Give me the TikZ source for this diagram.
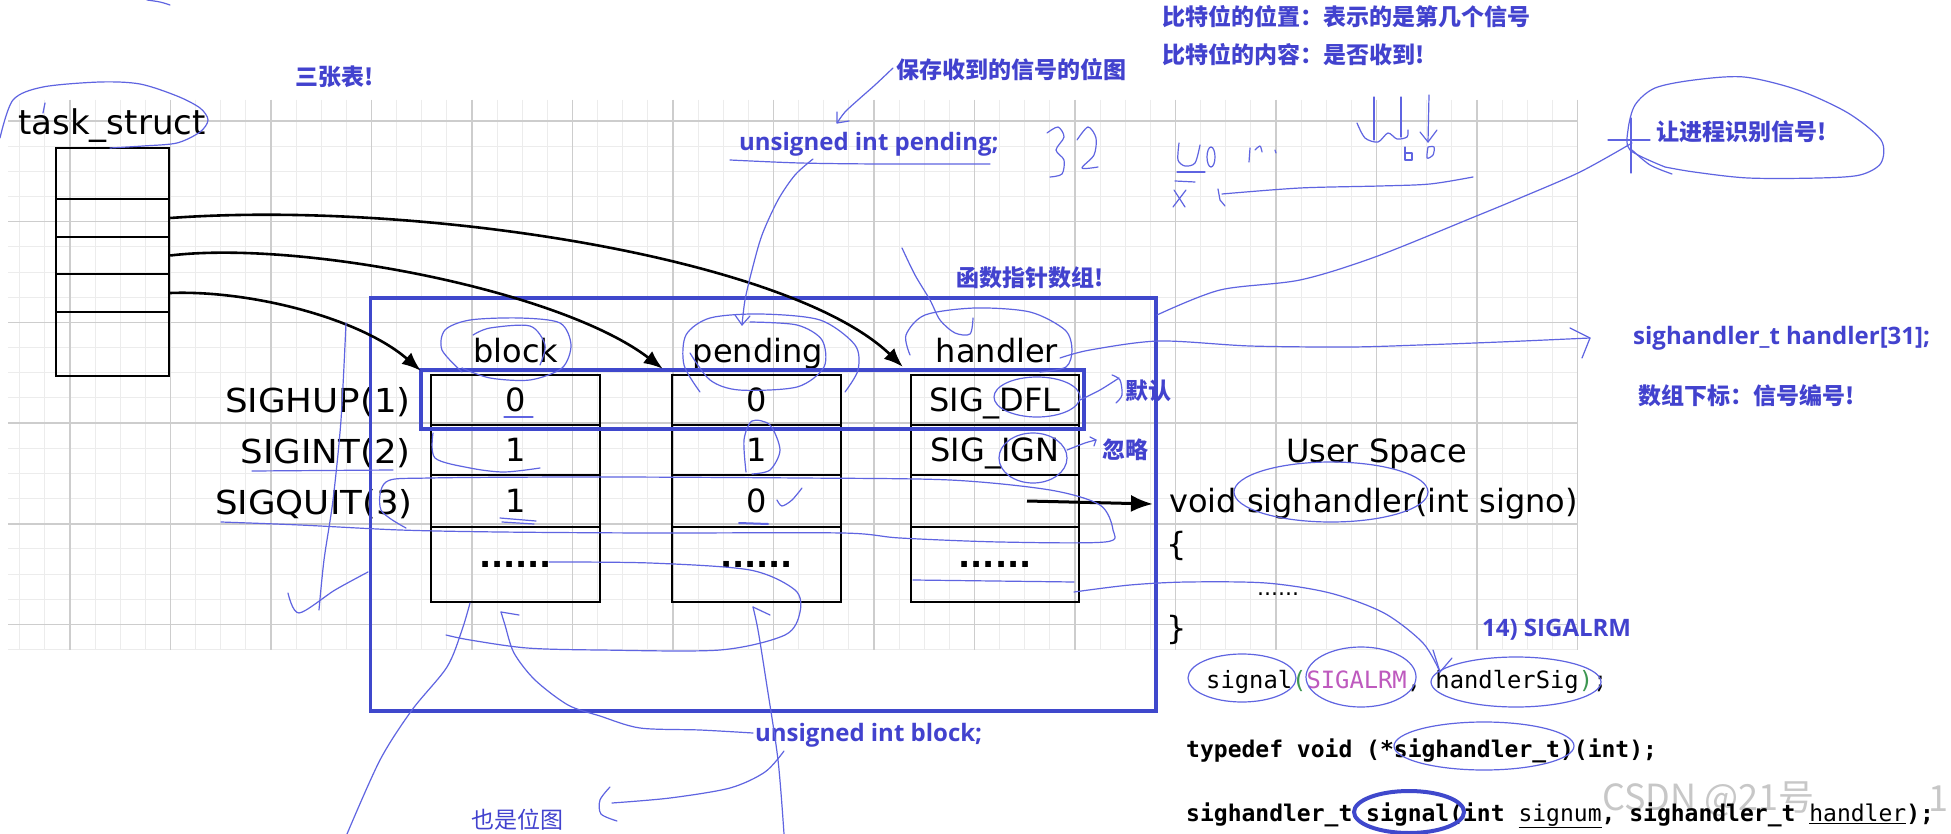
\documentclass[tikz,border=0pt]{standalone}
\usepackage{fontspec}
\setmainfont{DejaVu Sans}
\newfontfamily\comicf{DejaVu Sans}
\newfontfamily\comicw{DejaVu Sans}[FakeStretch=1.08]
\newfontfamily\cjkf{Noto Sans CJK SC}
\newfontfamily\latb{Open Sans}
\newfontfamily\monof{DejaVu Sans Mono}
\usetikzlibrary{arrows.meta}
\newcommand\myfs[1]{\fontsize{#1}{#1}\selectfont}
\definecolor{tblue}{RGB}{66,66,206}
\definecolor{boxblue}{RGB}{63,72,204}
\definecolor{scribc}{RGB}{95,100,225}
\definecolor{cgreen}{RGB}{60,150,80}
\definecolor{cpurple}{RGB}{190,90,190}
\definecolor{gmin}{RGB}{236,236,236}
\definecolor{gmaj}{RGB}{205,205,205}
\begin{document}
\begin{tikzpicture}[x=1pt,y=-1pt,
  gminor/.style={draw=gmin, line width=1pt},
  gmajor/.style={draw=gmaj, line width=1.6pt},
  cellb/.style={draw=black, line width=2.4pt, inner sep=0pt, minimum width=169pt,
     font=\comicf\myfs{32}, text height=23.3pt, text depth=0pt},
  cellt/.style={draw=black, line width=2.4pt, inner sep=0pt, minimum width=113pt},
  lab/.style={font=\comicw\myfs{33}, inner sep=0pt},
  hdr/.style={font=\comicf\myfs{32}, inner sep=0pt, anchor=base},
  dotst/.style={font=\comicf\bfseries\myfs{32}, inner sep=0pt, anchor=base},
  bcjk/.style={text=tblue, font=\cjkf\bfseries\myfs{23}, inner sep=0pt},
  blat/.style={text=tblue, font=\latb\bfseries\myfs{24}, inner sep=0pt},
  code/.style={font=\monof\myfs{23}, inner sep=0pt, anchor=base west},
  wm/.style={text=black!22, font=\cjkf\myfs{36}, inner sep=0pt},
  arr/.style={draw=black, line width=2.6pt, -{Latex[length=19pt,width=15pt]}},
  bluebox/.style={draw=boxblue, line width=3.8pt},
  scrib/.style={draw=scribc, line width=1.2pt, line cap=round, line join=round},
  ]
\useasboundingbox (0,0) rectangle (1951,834);
\fill[white] (0,0) rectangle (1951,834);

% ---------- grid ----------
\foreach \i in {0,...,62} { \draw[gminor] ({19.75+25.125*\i},100) -- ({19.75+25.125*\i},650); }
\foreach \j in {0,...,21} { \draw[gminor] (8,{121+25.17*\j}) -- (1577.5,{121+25.17*\j}); }
\foreach \i in {0,...,15} { \draw[gmajor] ({70+100.5*\i},100) -- ({70+100.5*\i},650); }
\foreach \j in {0,...,5} { \draw[gmajor] (8,{121+100.68*\j}) -- (1577.5,{121+100.68*\j}); }

% ---------- watermark ----------
\node[wm, anchor=west] (wm1) at (1602,799) {CSDN @21号};
\node[wm] (wm2) at (1938,799) {1};

% ---------- task_struct ----------
\node[font=\comicf\myfs{34}, inner sep=0pt, anchor=base] (tsl) at (112,135) {task\_struct};
\node[cellt, minimum height=51pt] (t1) at (112.5,173.5) {};
\node[cellt, minimum height=38pt] (t2) at (112.5,218) {};
\node[cellt, minimum height=37pt] (t3) at (112.5,255.5) {};
\node[cellt, minimum height=38pt] (t4) at (112.5,293) {};
\node[cellt, minimum height=64pt] (t5) at (112.5,344) {};

% ---------- tables ----------
\node[cellb, minimum height=50pt] (b1) at (515.5,400) {0};
\node[cellb, minimum height=50pt] (b2) at (515.5,450) {1};
\node[cellb, minimum height=52pt] (b3) at (515.5,501) {1};
\node[cellb, minimum height=75pt] (b4) at (515.5,564.5) {};
\node[cellb, minimum height=50pt] (p1) at (756.5,400) {0};
\node[cellb, minimum height=50pt] (p2) at (756.5,450) {1};
\node[cellb, minimum height=52pt] (p3) at (756.5,501) {0};
\node[cellb, minimum height=75pt] (p4) at (756.5,564.5) {};
\node[cellb, minimum width=168pt, minimum height=50pt] (h1) at (995,400) {SIG\_DFL};
\node[cellb, minimum width=168pt, minimum height=50pt] (h2) at (995,450) {SIG\_IGN};
\node[cellb, minimum width=168pt, minimum height=52pt] (h3) at (995,501) {};
\node[cellb, minimum width=168pt, minimum height=75pt] (h4) at (995,564.5) {};
\node[dotst] (bd) at (515.5,567) {......};
\node[dotst] (pd) at (756.5,567) {......};
\node[dotst] (hd) at (995,567) {......};

\node[hdr] (hb) at (516,362) {block};
\node[hdr] (hp) at (758,362) {pending};
\node[hdr] (hh) at (997,362) {handler};

\node[lab, anchor=base east] (l1) at (411,412) {SIGHUP(1)};
\node[lab, anchor=base east] (l2) at (411,463) {SIGINT(2)};
\node[lab, anchor=base east] (l3) at (413,514) {SIGQUIT(3)};

% ---------- blue boxes ----------
\draw[bluebox] (370.5,298) rectangle (1156,711);
\draw[draw=boxblue, line width=3.2pt] (421,370) rectangle (1084,429);

% ---------- black arrows ----------
\draw[arr] (t2.east) .. controls (420,200) and (790,258) .. ([shift={(-7,-7)}]h1.north west);
\draw[arr] (t3.east) .. controls (300,240) and (560,290) .. ([shift={(-8,-5)}]p1.north west);
\draw[arr] (t4.east) .. controls (250,290) and (360,318) .. ([shift={(-9,-3)}]b1.north west);
\coordinate (usp) at (1153,504);
\draw[draw=black, line width=3pt, -{Latex[length=22pt,width=17pt]}] ([xshift=32pt]h3.center) -- (usp);

% ---------- user space ----------
\node[font=\comicf\myfs{32}, inner sep=0pt, anchor=base west] (us) at (1286,462) {User Space};
\node[font=\comicf\myfs{32}, inner sep=0pt, anchor=base west] (vs) at (1169,512) {void sighandler(int signo)};
\node[font=\comicf\myfs{32}, inner sep=0pt] (lb) at (1177,546) {\{};
\node[font=\comicf\myfs{22}, inner sep=0pt] (ud) at (1278,594) {......};
\node[font=\comicf\myfs{32}, inner sep=0pt] (rb) at (1177,630) {\}};

% ---------- code ----------
\node[code, font=\monof\myfs{23.8}] (c1) at (1206,688) {signal\textcolor{cgreen}{(}\textcolor{cpurple}{SIGALRM}, handlerSig\textcolor{cgreen}{)};};
\node[code, font=\monof\bfseries\myfs{23}] (c2) at (1186,757) {typedef void (*sighandler\_t)(int);};
\node[code, font=\monof\bfseries\myfs{23}] (c3) at (1186,821) {sighandler\_t signal(int {\mdseries\underline{signum}}, sighandler\_t {\mdseries\underline{handler}});};

% ---------- blue annotations ----------
\node[bcjk] (a1) at (335,77) {三张表!};
\node[bcjk] (a2) at (1011,70) {保存收到的信号的位图};
\node[bcjk, anchor=west] (a3) at (1162,17) {比特位的位置：表示的是第几个信号};
\node[bcjk, anchor=west] (a4) at (1162,55) {比特位的内容：是否收到!};
\node[blat, anchor=base west] (a5) at (739,151) {unsigned int pending;};
\node[bcjk] (a6) at (1030,278) {函数指针数组!};
\node[bcjk] (a7) at (1148,391) {默认};
\node[bcjk] (a8) at (1125,450) {忽略};
\node[bcjk] (a9) at (1742,132) {让进程识别信号!};
\node[blat, anchor=base west] (a10) at (1633,344) {sighandler\_t handler[31];};
\node[bcjk, anchor=west] (a11) at (1638,396) {数组下标：信号编号!};
\node[blat, anchor=west] (a12) at (1482,630) {14) SIGALRM};
\node[blat, anchor=base west] (a13) at (755,741) {unsigned int block;};
\node[bcjk, font=\cjkf\myfs{23}] (a14) at (517,820) {也是位图};

% ---------- hand-drawn scribbles ----------
\draw[scrib] plot[smooth] coordinates {(0,138) (13,100) (43,87) (100,82) (140,84) (177,96) (200,108) (208,120) (200,132) (177,143) (143,146) (110,148)};
\draw[scrib] (45,103) -- (43,113);
\draw[scrib] plot[smooth] coordinates {(147,0) (160,2) (170,5)};
% headers
\draw[scrib] plot[smooth] coordinates {(462,372) (442,350) (445,330) (470,320) (520,318) (560,323) (571,345) (562,368) (530,380) (490,378) (462,368)};
\draw[scrib] plot[smooth] coordinates {(473,335) (490,328) (530,326) (545,345) (540,365)};
\draw[scrib] plot[smooth] coordinates {(700,392) (684,365) (686,335) (710,318) (760,314) (820,320) (855,345) (858,370) (845,392)};
\draw[scrib] plot[smooth] coordinates {(690,353) (710,380) (739,390) (797,387) (824,367) (822,340) (797,325) (750,322)};
\draw[scrib] plot[smooth] coordinates {(910,355) (906,335) (925,315) (975,308) (1030,312) (1065,330) (1072,350) (1066,367) (1040,372)};
% pending annotation
\draw[scrib] plot[smooth] coordinates {(893,68) (875,85) (858,100) (845,112) (837,123)};
\draw[scrib] (837,112) -- (837,123) -- (849,121);
\draw[scrib] plot[smooth] coordinates {(730,160) (800,163) (880,164) (990,164)};
\draw[scrib] plot[smooth] coordinates {(813,159) (795,175) (778,200) (762,235) (752,270) (745,300) (742,325)};
\draw[scrib] (735,315) -- (742,325) -- (750,316);
\draw[scrib] plot[smooth] coordinates {(902,248) (915,275) (930,300) (940,320) (955,333) (970,334) (973,318)};
% to right ellipse
\draw[scrib] plot[smooth] coordinates {(1157,315) (1220,290) (1300,280) (1375,257) (1474,217) (1520,198) (1580,172) (1632,143)};
\draw[scrib] (1608,140) -- (1650,140);
\draw[scrib] (1631,118) -- (1631,173);
\draw[scrib] plot[smooth] coordinates {(1632,150) (1650,165) (1672,174)};
\draw[scrib] plot[smooth] coordinates {(1665,167) (1630,150) (1628,130) (1635,105) (1655,88) (1694,80) (1744,77) (1798,90) (1848,113) (1881,140) (1881,163) (1860,175) (1819,178) (1748,178) (1694,172) (1665,167)};
\draw[scrib] plot[smooth] coordinates {(1060,358) (1090,350) (1159,341) (1250,346) (1350,347) (1420,345) (1500,342) (1590,338)};
\draw[scrib] (1570,328) -- (1590,338) -- (1582,358);
% top right scribbles
\draw[scrib] plot[smooth] coordinates {(1473,177) (1430,184) (1380,186) (1300,188) (1222,194)};
\draw[scrib] (1218,189) -- (1220,200) -- (1225,206);
\draw[scrib] (1174,190) -- (1185,207);
\draw[scrib] (1186,190) -- (1173,207);
\draw[scrib] (1177,172) -- (1205,172);
\draw[scrib] (1175,181) -- (1195,182);
\draw[scrib] plot[smooth] coordinates {(1179,143) (1178,160) (1185,166) (1195,163) (1200,145)};
\draw[scrib] (1211,157) ellipse [x radius=4, y radius=10];
\draw[scrib] (1250,148) -- (1249,162);
\draw[scrib] plot[smooth] coordinates {(1255,150) (1260,146) (1262,152)};
\draw[scrib] (1275,150) -- (1276,153);
\draw[scrib] (1374,97) -- (1374,140);
\draw[scrib] (1401,97) -- (1401,137);
\draw[scrib] (1429,95) -- (1428,142);
\draw[scrib] plot[smooth] coordinates {(1357,123) (1365,138) (1378,142) (1388,133) (1397,139) (1407,137) (1408,130)};
\draw[scrib] (1420,132) -- (1428,142) -- (1437,130);
\draw[scrib] (1405,147) -- (1405,160) -- (1412,160) -- (1412,153) -- (1405,153);
\draw[scrib] plot[smooth] coordinates {(1428,147) (1427,158) (1433,155) (1434,147) (1428,147)};
% 32
\draw[scrib] plot[smooth] coordinates {(1047,133) (1058,127) (1064,137) (1056,150) (1064,160) (1062,174) (1050,177)};
\draw[scrib] plot[smooth] coordinates {(1077,140) (1088,127) (1096,138) (1094,155) (1082,168) (1098,167)};
% row lassos
\draw[scrib] plot[smooth] coordinates {(406,528) (381,510) (386,482) (430,478) (600,477) (800,478) (950,480) (1050,490) (1100,505) (1113,530) (1105,542) (1000,542) (900,538) (842,533) (650,533) (500,532) (400,530) (300,525) (221,522)};
\draw[scrib] plot[smooth] coordinates {(549,562) (650,563) (750,570) (795,590) (800,612) (785,635) (720,650) (600,650) (527,648) (470,640) (446,635)};
\draw[scrib] plot[smooth] coordinates {(433,433) (435,458) (470,468) (504,472) (540,468)};
\draw[scrib] (252,471) -- (393,470);
\draw[scrib] (504,417) -- (533,417);
\draw[scrib] (500,518) -- (536,521);
\draw[scrib] (502,522) -- (534,524);
\draw[scrib, line width=2pt] (739,523) -- (768,524);
\draw[scrib] plot[smooth] coordinates {(746,472) (744,440) (752,421) (770,425) (780,450) (770,470) (752,474)};
\draw[scrib] plot[smooth] coordinates {(777,500) (782,506) (792,500) (802,488)};
% block annotation
\draw[scrib] plot[smooth] coordinates {(753,733) (700,730) (640,728) (600,716) (568,705) (535,680) (514,653) (505,625) (501,612)};
\draw[scrib] (501,612) -- (519,615);
\draw[scrib] plot[smooth] coordinates {(347,834) (380,760) (412,710) (447,667) (462,630) (470,603)};
\draw[scrib] plot[smooth] coordinates {(784,834) (778,760) (766,680) (758,630) (753,607)};
\draw[scrib] (753,607) -- (770,615);
\draw[scrib] plot[smooth] coordinates {(784,751) (765,772) (730,788) (670,798) (612,803)};
\draw[scrib] plot[smooth] coordinates {(610,787) (600,800) (601,814) (617,821)};
\draw[scrib] plot[smooth] coordinates {(346,323) (341,420) (333,500) (324,560) (319,610)};
\draw[scrib] plot[smooth] coordinates {(288,593) (299,613) (335,590) (368,572)};
% handler side
\draw[scrib] (913,580) -- (1074,582);
\draw[scrib] plot[smooth] coordinates {(1074,592) (1130,585) (1187,582) (1266,583) (1330,593) (1384,613) (1423,643) (1440,672)};
\draw[scrib] (1433,650) -- (1440,672) -- (1452,658);
\draw[scrib] (1037,397) ellipse [x radius=43, y radius=20];
\draw[scrib] plot[smooth] coordinates {(1080,400) (1100,390) (1119,378)};
\draw[scrib] plot[smooth] coordinates {(1112,375) (1120,380) (1122,395) (1116,403)};
\draw[scrib] (1033,458) ellipse [x radius=34, y radius=25];
\draw[scrib] plot[smooth] coordinates {(1067,450) (1085,443) (1096,440)};
\draw[scrib] (1090,437) -- (1096,440) -- (1094,446);
% code ellipses
\draw[scrib] (1331,492) ellipse [x radius=97, y radius=30];
\draw[scrib] (1242,678) ellipse [x radius=54, y radius=24];
\draw[scrib] (1361,677) ellipse [x radius=55, y radius=30];
\draw[scrib] (1516,682) ellipse [x radius=85, y radius=25];
\draw[scrib] (1484,746) ellipse [x radius=90, y radius=24];
\draw[draw=boxblue, line width=4pt] (1409,812) ellipse [x radius=55, y radius=21];
\end{tikzpicture}
\end{document}
